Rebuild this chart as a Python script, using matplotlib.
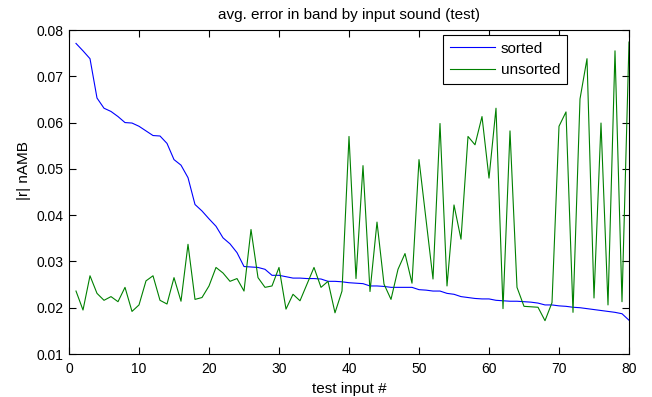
import numpy as np
import matplotlib
matplotlib.use('Agg')
import matplotlib.pyplot as plt

plt.rcParams['font.family'] = ['Liberation Sans', 'DejaVu Sans']

# test input index 1..80
test_input = list(range(1, 81))

# error sorted descending
sorted_err = [
    0.0771, 0.0755, 0.0738, 0.0653, 0.0631, 0.0624, 0.0613, 0.0600, 0.0599, 0.0592,
    0.0582, 0.0572, 0.0571, 0.0555, 0.0520, 0.0508, 0.0481, 0.0423, 0.0409, 0.0392,
    0.0376, 0.0351, 0.0338, 0.0319, 0.0289, 0.0288, 0.0287, 0.0283, 0.0270, 0.0270,
    0.0267, 0.0264, 0.0264, 0.0263, 0.0263, 0.0262, 0.0257, 0.0257, 0.0256, 0.0254,
    0.0253, 0.0252, 0.0247, 0.0247, 0.0246, 0.0244, 0.0244, 0.0244, 0.0244, 0.0239,
    0.0238, 0.0236, 0.0236, 0.0231, 0.0229, 0.0224, 0.0222, 0.0220, 0.0219, 0.0219,
    0.0216, 0.0215, 0.0214, 0.0214, 0.0213, 0.0212, 0.0210, 0.0206, 0.0206, 0.0204,
    0.0203, 0.0201, 0.0200, 0.0198, 0.0196, 0.0194, 0.0192, 0.0190, 0.0187, 0.0173,
]

# error in original order
unsorted_err = [
    0.0236, 0.0195, 0.0269, 0.0231, 0.0216, 0.0224, 0.0213, 0.0244, 0.0192, 0.0206,
    0.0258, 0.0269, 0.0216, 0.0208, 0.0265, 0.0214, 0.0337, 0.0218, 0.0222, 0.0247,
    0.0287, 0.0275, 0.0257, 0.0263, 0.0236, 0.0369, 0.0265, 0.0244, 0.0247, 0.0287,
    0.0197, 0.0229, 0.0215, 0.0251, 0.0287, 0.0244, 0.0257, 0.0189, 0.0236, 0.0570,
    0.0263, 0.0507, 0.0235, 0.0385, 0.0251, 0.0218, 0.0283, 0.0317, 0.0253, 0.0520,
    0.0391, 0.0262, 0.0598, 0.0247, 0.0422, 0.0348, 0.0570, 0.0552, 0.0613, 0.0480,
    0.0631, 0.0198, 0.0582, 0.0244, 0.0203, 0.0202, 0.0201, 0.0172, 0.0211, 0.0592,
    0.0623, 0.0190, 0.0651, 0.0738, 0.0221, 0.0599, 0.0206, 0.0755, 0.0213, 0.0774,
]

fig = plt.figure(figsize=(6.52, 3.97), dpi=100)
ax = fig.add_axes([69 / 652, 1 - 354 / 397, 560 / 652, 324 / 397])

ax.plot(test_input, sorted_err, color=(0, 0, 1), lw=0.8, label='sorted')
ax.plot(test_input, unsorted_err, color=(0, 0.5, 0), lw=0.8, label='unsorted')

ax.set_xlim(0, 80)
ax.set_ylim(0.01, 0.08)
ax.set_xticks(np.arange(0, 81, 10))
ax.set_yticks(np.arange(0.01, 0.0801, 0.01))
ax.set_yticklabels(['%.2f' % v for v in np.arange(0.01, 0.0801, 0.01)])
ax.tick_params(direction='in', top=True, right=True, length=5, width=0.8,
               labelsize=10)
ax.tick_params(axis='x', pad=6)
ax.tick_params(axis='y', pad=4)
for s in ax.spines.values():
    s.set_linewidth(0.8)

ax.set_title('avg. error in band by input sound (test)', fontsize=11, pad=8)
ax.set_xlabel('test input #', fontsize=11, labelpad=4)
ax.set_ylabel('|r| nAMB', fontsize=11)
ax.yaxis.set_label_coords(-0.068, 0.565)

leg = ax.legend(loc='upper right', bbox_to_anchor=(0.889, 0.985), fontsize=11,
                fancybox=False, framealpha=1, edgecolor='black',
                handlelength=2.95, borderpad=0.45, labelspacing=0.5,
                handletextpad=0.35, borderaxespad=0)
leg.get_frame().set_linewidth(0.8)

plt.savefig('out.png', dpi=100)
